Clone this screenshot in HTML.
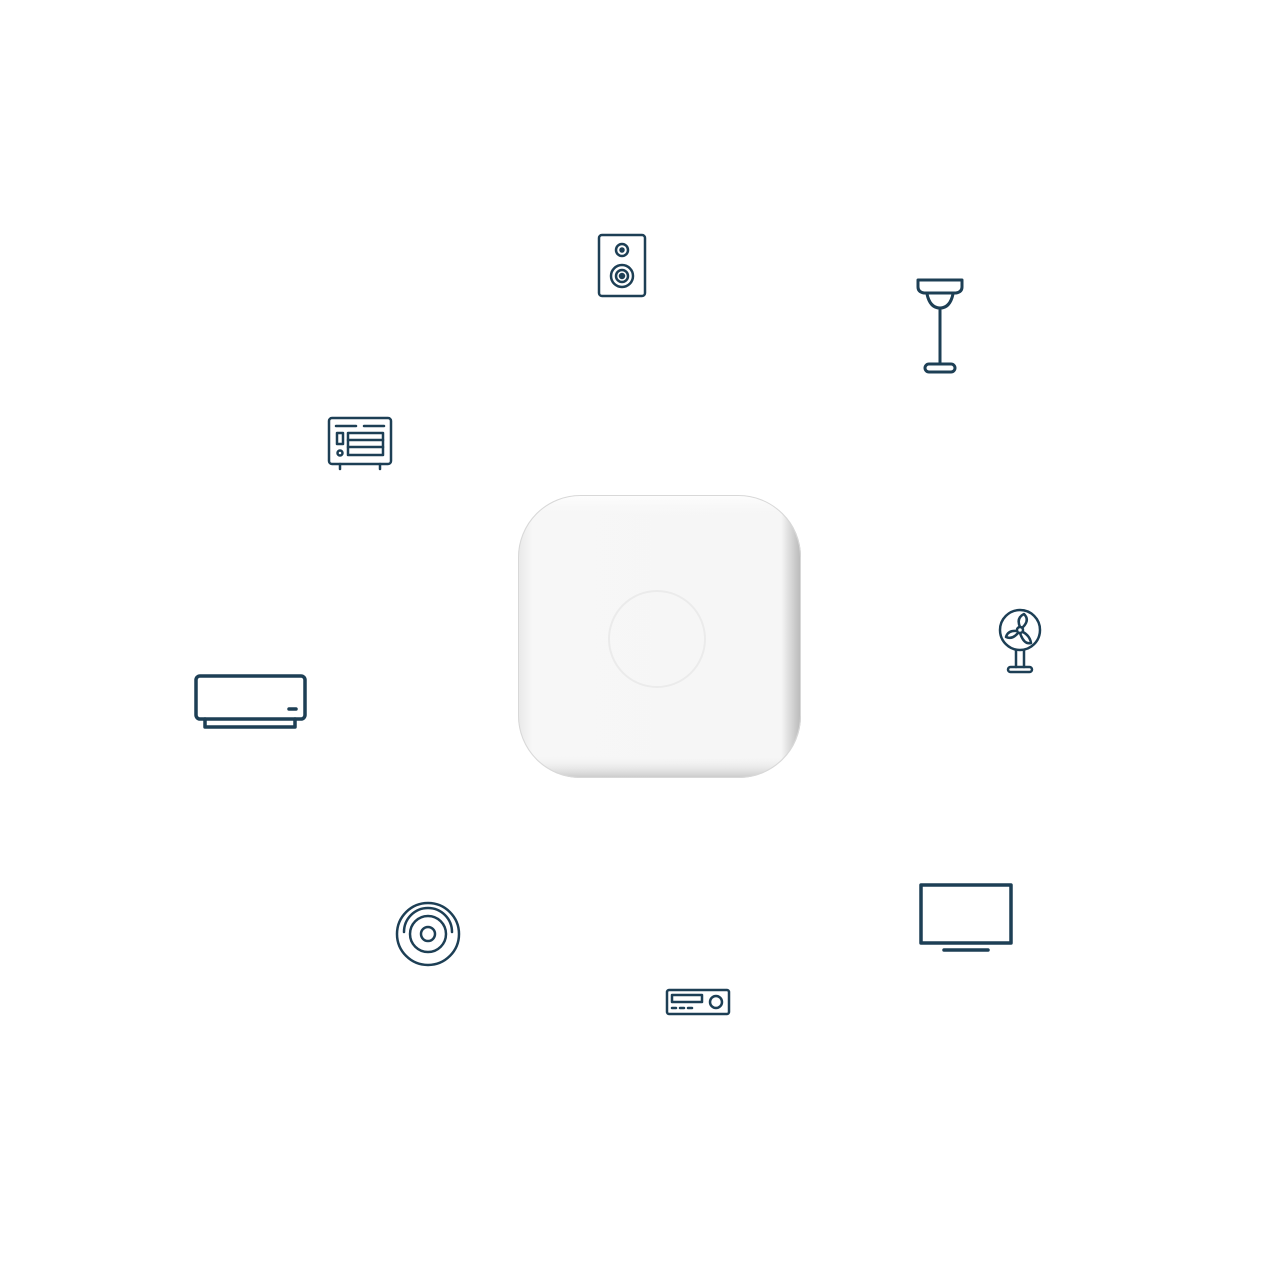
<!DOCTYPE html>
<html><head><style>
html,body{margin:0;padding:0;background:#fff;width:1280px;height:1280px;overflow:hidden}
</style></head><body>
<svg width="1280" height="1280" viewBox="0 0 1280 1280" xmlns="http://www.w3.org/2000/svg">
<defs>
<linearGradient id="gx" x1="0" x2="1" y1="0" y2="0">
<stop offset="0" stop-color="#e8e8e8"/><stop offset="0.05" stop-color="#f7f7f7"/><stop offset="0.93" stop-color="#f6f6f6"/><stop offset="1" stop-color="#b8b8b8"/>
</linearGradient>
<linearGradient id="gy" x1="0" x2="0" y1="0" y2="1">
<stop offset="0" stop-color="#fff" stop-opacity="0.9"/><stop offset="0.08" stop-color="#f6f6f6" stop-opacity="0"/><stop offset="0.92" stop-color="#f6f6f6" stop-opacity="0"/><stop offset="1" stop-color="#aaa" stop-opacity="0.6"/>
</linearGradient>
</defs>
<rect x="518" y="495" width="283" height="283" rx="62" fill="url(#gx)"/>
<rect x="518" y="495" width="283" height="283" rx="62" fill="url(#gy)"/>
<rect x="518.5" y="495.5" width="282" height="282" rx="62" fill="none" stroke="#d8d8d8" stroke-width="1"/>
<circle cx="657" cy="639" r="48" fill="none" stroke="#ebebeb" stroke-width="2"/>

<g fill="none" stroke="#1d3f55" stroke-width="2.5" stroke-linecap="round" stroke-linejoin="round">
<!-- speaker -->
<rect x="599" y="235" width="46" height="61" rx="3"/>
<circle cx="622" cy="250" r="6"/><circle cx="622" cy="250" r="1.5" fill="#1d3f55"/>
<circle cx="622" cy="276" r="11"/><circle cx="622" cy="276" r="6"/><circle cx="622" cy="276" r="2" fill="#1d3f55"/>
<!-- floor lamp -->
<path d="M918 280 H962 V287 Q962 292 956 293 H924 Q918 292 918 287 Z" stroke-width="3"/>
<path d="M927 294 Q930 308 940 308 Q950 308 953 294" stroke-width="3"/>
<line x1="940" y1="308" x2="940" y2="364" stroke-width="3"/>
<rect x="925" y="364" width="30" height="8" rx="4" stroke-width="3"/>
<!-- radio/heater -->
<rect x="329" y="418" width="62" height="46" rx="3"/>
<line x1="336" y1="426" x2="356" y2="426"/><line x1="364" y1="426" x2="384" y2="426"/>
<rect x="337" y="433" width="6" height="11"/><circle cx="340" cy="453" r="2.5"/>
<rect x="348" y="433" width="35" height="22"/>
<line x1="348" y1="440" x2="383" y2="440"/><line x1="348" y1="447" x2="383" y2="447"/>
<line x1="340" y1="464" x2="340" y2="469"/><line x1="380" y1="464" x2="380" y2="469"/>
<!-- fan -->
<circle cx="1020" cy="630" r="20"/>
<circle cx="1020" cy="630" r="3"/>
<path d="M1020 627 Q1016 618 1024 614 Q1030 620 1023 627"/>
<path d="M1023 632 Q1030 636 1031 643 Q1024 645 1020 633"/>
<path d="M1017 631 Q1008 630 1006 637 Q1012 640 1018 633"/>
<line x1="1016" y1="650" x2="1016" y2="667"/><line x1="1024" y1="650" x2="1024" y2="667"/>
<rect x="1008" y="667" width="24" height="5" rx="2.5"/>
<!-- AC -->
<rect x="196" y="676" width="109" height="43" rx="4" stroke-width="3.5"/>
<path d="M205 719 V727 H295 V719" stroke-width="3.5"/>
<line x1="289" y1="709" x2="296" y2="709" stroke-width="3.5"/>
<!-- TV -->
<rect x="921" y="885" width="90" height="58" stroke-width="3.5"/>
<line x1="944" y1="950" x2="988" y2="950" stroke-width="3.5"/>
<!-- disc -->
<circle cx="428" cy="934" r="31"/>
<circle cx="428" cy="934" r="18"/>
<circle cx="428" cy="934" r="7"/>
<path d="M404 932 A24 24 0 0 1 452 932"/>
<!-- receiver -->
<rect x="667" y="990" width="62" height="24" rx="2"/>
<rect x="672" y="995" width="30" height="7"/>
<circle cx="716" cy="1002" r="6"/>
<line x1="672" y1="1008" x2="676" y2="1008"/><line x1="680" y1="1008" x2="684" y2="1008"/><line x1="688" y1="1008" x2="692" y2="1008"/>
</g>
</svg>
</body></html>
